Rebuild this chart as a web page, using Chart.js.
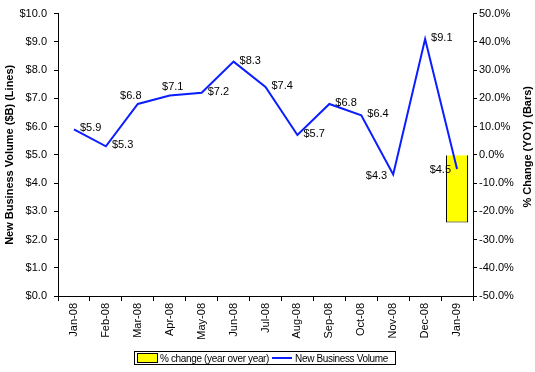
<!DOCTYPE html>
<html>
<head>
<meta charset="utf-8">
<script src="https://cdn.jsdelivr.net/npm/chart.js@4.4.1/dist/chart.umd.min.js"></script>
<style>
  html, body { margin: 0; padding: 0; background: #fff; }
  #wrap { position: relative; width: 535px; height: 372px; }
  #legend {
    position: absolute; left: 134px; top: 351px; height: 14px; width: 262px; box-sizing: border-box;
    border: 1px solid #000; font: 10px "Liberation Sans", Arial, sans-serif; letter-spacing: -0.35px;
    display: flex; align-items: center; white-space: nowrap; color: #000; overflow: hidden;
  }
  #legend .sw { flex: 0 0 auto; display: inline-block; width: 19px; height: 8px; background: #ffff00; border: 1px solid #000; margin: 0 2px 0 2px; }
  #legend .ln { flex: 0 0 auto; display: inline-block; width: 20px; height: 2px; background: #0a1eff; margin: 0 3px 0 3px; }
</style>
</head>
<body>
<div id="wrap">
  <canvas id="c" width="535" height="372"></canvas>
  <div id="legend"><span class="sw"></span>% change (year over year)<span class="ln"></span>New Business Volume</div>
</div>
<script>
// New business volume chart: line on $B axis, bar on % change axis

const months = ['Jan-08','Feb-08','Mar-08','Apr-08','May-08','Jun-08','Jul-08','Aug-08','Sep-08','Oct-08','Nov-08','Dec-08','Jan-09'];
const volume = [5.9, 5.3, 6.8, 7.1, 7.2, 8.3, 7.4, 5.7, 6.8, 6.4, 4.3, 9.1, 4.5];
const pctChange = [null, null, null, null, null, null, null, null, null, null, null, null, -24];
// where each value label sits relative to its point
const labelSide = ['right','right','aboveleft','above','right','right','right','right','right','right','left','right','left'];

const FONT = '"Liberation Sans", Arial, sans-serif';

const valueLabels = {
  id: 'valueLabels',
  afterDatasetsDraw(chart) {
    const ctx = chart.ctx;
    const meta = chart.getDatasetMeta(1);
    ctx.save();
    ctx.font = '11px ' + FONT;
    ctx.fillStyle = '#000';
    ctx.textBaseline = 'middle';
    meta.data.forEach((pt, i) => {
      const txt = '$' + volume[i].toFixed(1);
      let x = pt.x, y = pt.y;
      const side = labelSide[i];
      if (side === 'right') { ctx.textAlign = 'left'; x += 6; y -= 1; }
      else if (side === 'left') { ctx.textAlign = 'right'; x -= 6; y += 1; }
      else if (side === 'above') { ctx.textAlign = 'center'; x += 3; y -= 9; }
      else { ctx.textAlign = 'center'; x -= 7; y -= 8; }
      ctx.fillText(txt, x, y);
    });
    // right axis title, reading bottom to top like the left one
    const a = chart.chartArea;
    ctx.translate(528, (a.top + a.bottom) / 2 - 8);
    ctx.rotate(-Math.PI / 2);
    ctx.font = 'bold 11px ' + FONT;
    ctx.textAlign = 'center';
    ctx.fillText('% Change (YOY) (Bars)', 0, 0);
    ctx.restore();
  }
};

new Chart(document.getElementById('c'), {
  data: {
    labels: months,
    datasets: [
      {
        type: 'bar', label: '% change (year over year)', data: pctChange, yAxisID: 'y1',
        backgroundColor: '#ffff00', borderColor: '#000', borderWidth: 1,
        barPercentage: 0.69, categoryPercentage: 1, order: 2
      },
      {
        type: 'line', label: 'New Business Volume', data: volume, yAxisID: 'y',
        borderColor: '#0a1eff', borderWidth: 2, pointRadius: 0, tension: 0, fill: false, order: 1
      }
    ]
  },
  options: {
    responsive: false,
    animation: false,
    layout: { padding: { top: 8, bottom: 0, left: 0, right: 0 } },
    plugins: { legend: { display: false }, tooltip: { enabled: false } },
    scales: {
      x: {
        grid: { drawOnChartArea: false, offset: true, tickLength: 5, color: '#000' },
        border: { color: '#000' },
        ticks: { color: '#000', font: { family: FONT, size: 11 }, minRotation: 90, maxRotation: 90, padding: 2 },
        afterFit(s) { s.height = 76; }
      },
      y: {
        position: 'left', min: 0, max: 10,
        grid: { drawOnChartArea: false, tickLength: 4, color: '#000' },
        border: { color: '#000' },
        ticks: { stepSize: 1, color: '#000', font: { family: FONT, size: 11 }, padding: 7,
                 callback: v => '$' + v.toFixed(1) },
        title: { display: true, text: 'New Business Volume ($B) (Lines)', color: '#000',
                 font: { family: FONT, size: 11, weight: 'bold' }, padding: { top: 3, bottom: 0 } },
        afterFit(s) { s.width = 58; }
      },
      y1: {
        position: 'right', min: -50, max: 50,
        grid: { drawOnChartArea: false, tickLength: 4, color: '#000' },
        border: { color: '#000' },
        ticks: { stepSize: 10, color: '#000', font: { family: FONT, size: 11 }, padding: 2,
                 callback: v => v.toFixed(1) + '%' },
        afterFit(s) { s.width = 62; }
      }
    }
  },
  plugins: [valueLabels]
});
</script>
</body>
</html>
